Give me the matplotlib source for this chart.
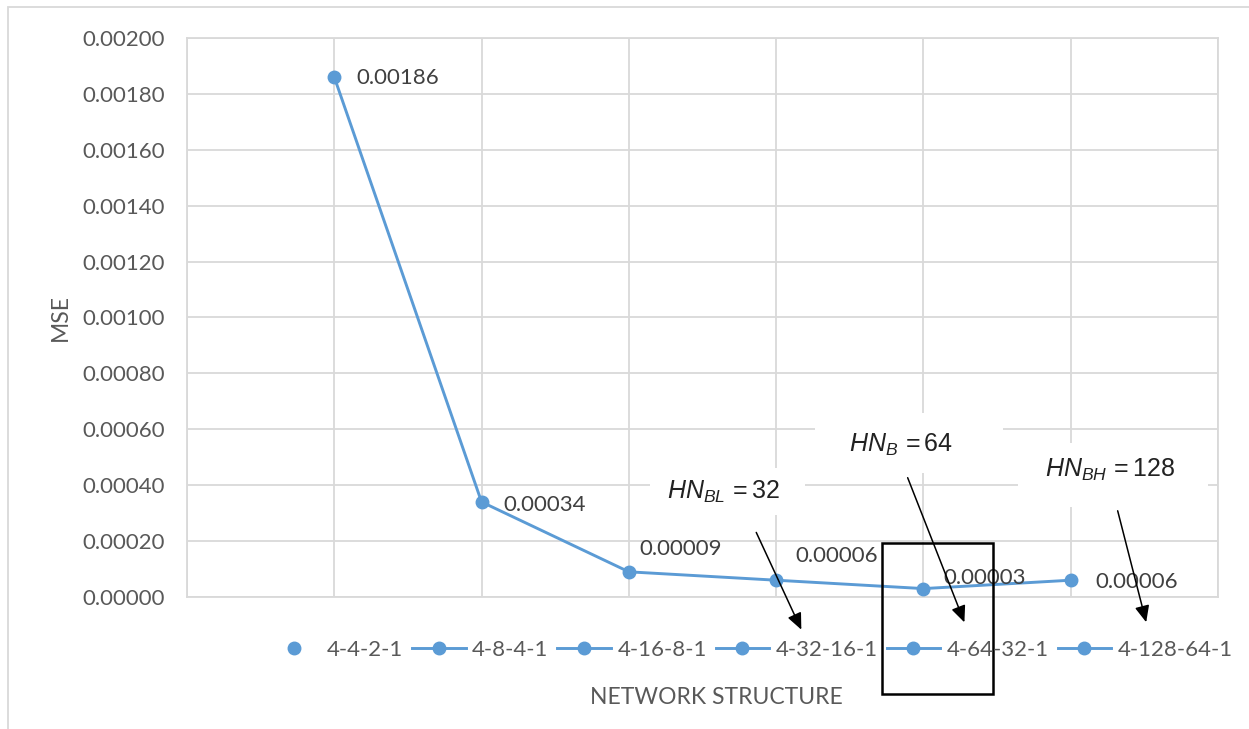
import matplotlib
matplotlib.use("Agg")
import matplotlib.pyplot as plt
from matplotlib.lines import Line2D
from matplotlib.patches import Rectangle

plt.rcParams['font.family'] = ['Lato', 'DejaVu Sans']
plt.rcParams['mathtext.fontset'] = 'custom'
plt.rcParams['mathtext.rm'] = 'Liberation Sans'
plt.rcParams['mathtext.it'] = 'Liberation Sans:italic'

# data
structures = ['4-4-2-1', '4-8-4-1', '4-16-8-1', '4-32-16-1', '4-64-32-1', '4-128-64-1']
positions = [1, 2, 3, 4, 5, 6]
mse = [0.00186, 0.00034, 0.00009, 0.00006, 0.00003, 0.00006]
notes = [r'$HN_{BL}\,=\mathrm{32}$', r'$HN_{B}\,=\mathrm{64}$', r'$HN_{BH}\,=\mathrm{128}$']

blue = '#5B9BD5'
grid_c = '#D9D9D9'
txt_c = '#595959'
fs = 16

fig = plt.figure(figsize=(12.49, 7.29), dpi=100)
ax = fig.add_axes([0.1497, 0.1811, 0.8255, 0.7668])

ax.plot(positions, mse, color=blue, lw=2.1, marker='o', ms=9, zorder=5)

# data labels (offsets in pixels)
label_off = [(22, -1), (22, -3), (11, 23), (19, 24), (20, 11), (25, -2)]
for x, y, (dx, dy) in zip(positions, mse, label_off):
    ax.annotate(f'{y:.5f}', (x, y), xytext=(dx * 0.72, dy * 0.72), textcoords='offset points',
                ha='left', va='center', fontsize=fs, color='#404040', zorder=6)

ax.set_xlim(0, 7)
ax.set_ylim(0, 0.002)
ax.set_xticks(range(0, 8))
ax.set_xticklabels([])
ax.set_yticks([i * 0.0002 for i in range(11)])
ax.set_yticklabels([f'{i * 0.0002:.5f}' for i in range(11)])
ax.tick_params(axis='both', length=0, labelsize=fs, labelcolor=txt_c, pad=16)
ax.grid(True, color=grid_c, lw=1.3)
ax.set_axisbelow(True)
for s in ax.spines.values():
    s.set_color(grid_c)
    s.set_linewidth(1.3)

ax.set_ylabel('MSE', fontsize=16.5, color=txt_c, labelpad=8)
fig.text(716 / 1249, 1 - 697 / 729, 'NETWORK STRUCTURE', ha='center', va='center',
         fontsize=16.5, color=txt_c)

# white boxes with the hidden-neuron notes
boxes = [(0.449, 0.147, 0.150, 0.084), (0.609, 0.222, 0.182, 0.107), (0.806, 0.161, 0.184, 0.114)]
note_xy = [(0.520, 0.188), (0.693, 0.272), (0.895, 0.227)]
for (bx, by, bw, bh), (tx, ty), t in zip(boxes, note_xy, notes):
    ax.add_patch(Rectangle((bx, by), bw, bh, transform=ax.transAxes, facecolor='white',
                           edgecolor='none', zorder=2))
    ax.text(tx, ty, t, transform=ax.transAxes, ha='center', va='center', fontsize=18,
            color='#222222', zorder=3)

arrows = [((0.551, 0.120), (0.597, -0.063)),
          ((0.698, 0.218), (0.755, -0.050)),
          ((0.902, 0.159), (0.931, -0.050))]
for start, end in arrows:
    ax.annotate('', xy=end, xytext=start, xycoords='axes fraction', textcoords='axes fraction',
                arrowprops=dict(arrowstyle='-|>,head_length=0.5,head_width=0.22', color='black',
                                lw=1.1, mutation_scale=20),
                annotation_clip=False, zorder=7)

ax.add_patch(Rectangle((0.674, -0.1735), 0.108, 0.270, transform=ax.transAxes, fill=False,
                       edgecolor='black', lw=1.8, clip_on=False, zorder=7))

# legend
handles = [Line2D([], [], color=blue, marker='o', ms=9, lw=0 if i == 0 else 2.1)
           for i in range(len(structures))]
fig.legend(handles, structures, loc='center', bbox_to_anchor=(750 / 1249, 1 - 650 / 729),
           ncol=6, frameon=False, fontsize=fs, labelcolor=txt_c, handlelength=2.4,
           handletextpad=0.3, columnspacing=0.4)

# outer chart border (top and left visible)
fig.patches.append(Rectangle((8 / 1249, -0.5), 2, 1.5 - 7 / 729, transform=fig.transFigure,
                             fill=False, edgecolor=grid_c, lw=1.3))

fig.savefig('out.png', dpi=100)
